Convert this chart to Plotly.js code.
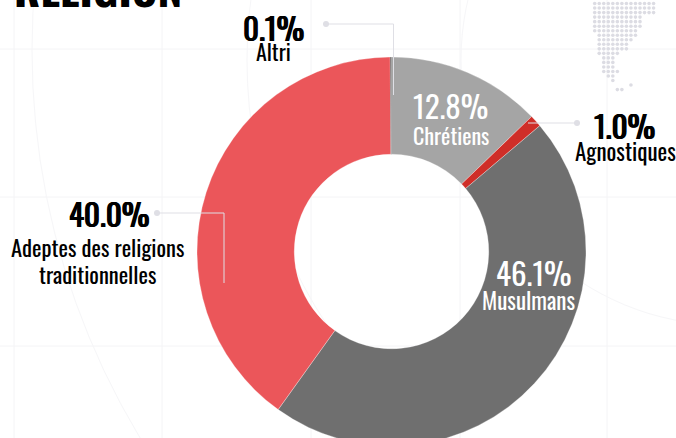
<!DOCTYPE html>
<html><head><meta charset="utf-8">
<script src="https://cdn.plot.ly/plotly-3.0.1.min.js"></script>
<style>html,body{margin:0;padding:0;background:#fff;overflow:hidden;width:676px;height:438px}</style>
</head><body><div id="chart"></div>
<script>
const categories = ["Chrétiens","Agnostiques","Musulmans","Adeptes des religions traditionnelles","Altri"];
const shares = [12.8,1.0,46.1,40.0,0.1];
const sliceColors = ["#A5A5A5","#CF2E28","#6F6F6F","#EB565A","#222222"];
// decorative dotted map: first/last column per row, top to bottom
const mapRowFirst = [-2,0,0,0,0,0,0,0,1,1,1,1,1,2,2,2,2,3,4,8,5];
const mapRowLast  = [13,13,13,13,10,10,10,9,9,8,7,7,5,4,4,4,5,4,4,8,6];
const W=676,H=460;
const FONT='"Liberation Sans Narrow","Oswald","Roboto Condensed",sans-serif';
const cx=391.5,cy=251.5,R=194.5;
const X=p=>p/W, Y=p=>1-p/H;
function line(pts){return {type:'path',xref:'paper',yref:'paper',layer:'above',
  path:'M'+pts.map(p=>X(p[0])+','+Y(p[1])).join(' L'),line:{color:'#DFDFE5',width:1}}}
function dot(x,y,r){return {type:'circle',xref:'paper',yref:'paper',layer:'above',x0:X(x-r),x1:X(x+r),y0:Y(y+r),y1:Y(y-r),fillcolor:'#DFDFE5',line:{width:0}}}
function grid(x0,y0,x1,y1){return {type:'line',xref:'paper',yref:'paper',layer:'below',x0:X(x0),x1:X(x1),y0:Y(y0),y1:Y(y1),line:{color:'#F4F4F6',width:1}}}
function ring(x,y,r){return {type:'circle',xref:'paper',yref:'paper',layer:'below',x0:X(x-r),x1:X(x+r),y0:Y(y+r),y1:Y(y-r),fillcolor:'rgba(0,0,0,0)',line:{color:'#F6F6F8',width:1}}}
function txt(t,x,y,size,color){return {text:t,xref:'paper',yref:'paper',x:X(x),y:Y(y),xanchor:'center',yanchor:'middle',showarrow:false,align:'center',font:{family:FONT,size:size,color:color}}}
function big(t,x,y){const a=txt(t,x,y,31,'#000');a.font.shadow='0.6px 0 0 #000, -0.6px 0 0 #000';return a}
const shapes=[
 ...[49,197,346].map(y=>grid(0,y,676,y)),
 ...[14,162,311,460,607].map(x=>grid(x,0,x,438)),
 ring(782,50,750),ring(726,60,265),ring(726,60,479),
 line([[326,24],[393.5,24],[393.5,95]]),dot(326,24,3),
 line([[157,213],[224,213],[224,283]]),dot(157,213,3),
 line([[528,123],[577,123]]),dot(577,123,3)
];
const annotations=[
 {text:'<b>RELIGION</b>',xref:'paper',yref:'paper',x:X(12),y:Y(-12),xanchor:'left',yanchor:'middle',showarrow:false,font:{family:FONT,size:44,color:'#000'}},
 big('0.1%',273,27),txt('Altri',273,51,22,'#000'),
 big('40.0%',109,213),txt('Adeptes des religions',97,247,22.5,'#000'),txt('traditionnelles',97,274,22.5,'#000'),
 txt('12.8%',450.5,105,31,'#fff'),txt('Chrétiens',451,135,22,'#fff'),
 big('1.0%',624,125),txt('Agnostiques',625.5,151.5,23,'#000'),
 txt('46.1%',534,272,31,'#fff'),txt('Musulmans',528,300,23,'#fff')
];
const mapX=[],mapY=[];
mapRowFirst.forEach((first,row)=>{for(let c=first;c<=mapRowLast[row];c++){mapX.push(594.7+c*4.53);mapY.push(-1+row*4.53)}});
Plotly.newPlot('chart',[
 {type:'scatter',mode:'markers',x:mapX,y:mapY,marker:{size:3.6,color:'#DCDCE3'},hoverinfo:'skip',cliponaxis:false},
 {type:'pie',labels:categories,values:shares,marker:{colors:sliceColors,line:{color:'#fff',width:0.3}},
 hole:0.5,sort:false,direction:'clockwise',rotation:0,textinfo:'none',hoverinfo:'label+percent',
 domain:{x:[(cx-R)/W,(cx+R)/W],y:[1-(cy+R)/H,1-(cy-R)/H]}}],
 {width:W,height:H,margin:{l:0,r:0,t:0,b:0},showlegend:false,paper_bgcolor:'#fff',plot_bgcolor:'rgba(0,0,0,0)',
  xaxis:{range:[0,W],visible:false,fixedrange:true},yaxis:{range:[H,0],visible:false,fixedrange:true},shapes,annotations},
 {displayModeBar:false,staticPlot:true});
</script></body></html>
